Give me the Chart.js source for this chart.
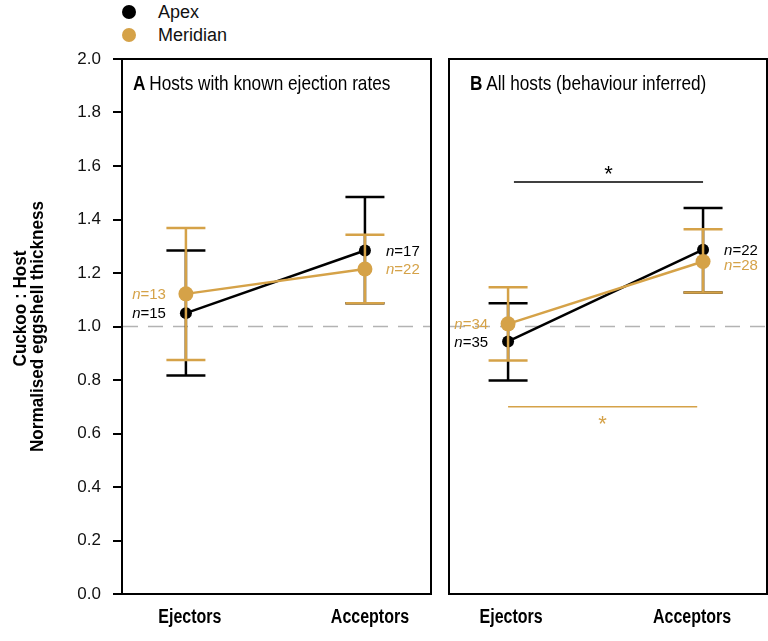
<!DOCTYPE html>
<html>
<head>
<meta charset="utf-8">
<script src="https://cdn.jsdelivr.net/npm/chart.js@4.4.1/dist/chart.umd.min.js"></script>
<style>
  html, body { margin: 0; padding: 0; background: #fff; }
  #wrap { position: relative; width: 768px; height: 641px; overflow: hidden;
          font-family: 'Liberation Sans', Arial, sans-serif; }
  #chartA { position: absolute; left: 0; top: 0; }
  #chartB { position: absolute; left: 440px; top: 0; }
  .leg { position: absolute; left: 122px; height: 24px; line-height: 24px; font-size: 18px;
         padding-left: 36px; color: #111; }
  .leg .dot { position: absolute; left: 0; top: 5px; width: 14px; height: 14px; border-radius: 50%; }
</style>
</head>
<body>
<div id="wrap">
  <div class="leg" style="top:0px"><span class="dot" style="background:#000"></span>Apex</div>
  <div class="leg" style="top:23px"><span class="dot" style="background:#D5A248"></span>Meridian</div>
  <canvas id="chartA" width="440" height="641"></canvas>
  <canvas id="chartB" width="328" height="641"></canvas>
</div>
<script>
// --- datos ---
const groups = ['Ejectors', 'Acceptors'];
const seriesNames = ['Apex', 'Meridian'];
const yTicks = [0, 0.2, 0.4, 0.6, 0.8, 1.0, 1.2, 1.4, 1.6, 1.8, 2.0];
const yTitle = ['Cuckoo : Host', 'Normalised eggshell thickness'];

// Panel A: hosts with known ejection rates
const apexA      = [1.050, 1.284];
const apexA_lo   = [0.817, 1.087];
const apexA_hi   = [1.284, 1.484];
const apexA_n    = [15, 17];
const meridianA    = [1.122, 1.215];
const meridianA_lo = [0.875, 1.087];
const meridianA_hi = [1.368, 1.343];
const meridianA_n  = [13, 22];

// Panel B: all hosts (behaviour inferred)
const apexB      = [0.944, 1.287];
const apexB_lo   = [0.798, 1.127];
const apexB_hi   = [1.087, 1.443];
const apexB_n    = [35, 22];
const meridianB    = [1.010, 1.243];
const meridianB_lo = [0.873, 1.127];
const meridianB_hi = [1.147, 1.364];
const meridianB_n  = [34, 28];

// significance bars in panel B (y level of each bar)
const sigLevelsB = [1.54, 0.70];

const FONT = "'Liberation Sans', Arial, sans-serif";
const BLACK = '#000000';
const GOLD = '#D5A248';
Chart.defaults.font.family = FONT;

// texto comprimido en horizontal (simula una fuente condensada)
function narrowText(ctx, text, x, y, font, sx, align, rot) {
  ctx.save();
  ctx.translate(x, y);
  if (rot) ctx.rotate(rot);
  ctx.scale(sx, 1);
  ctx.font = font;
  ctx.textAlign = align;
  ctx.textBaseline = 'alphabetic';
  ctx.fillText(text, 0, 0);
  ctx.restore();
}

function makeSets(vals, lo, hi, n, name, color, order, radius) {
  return {
    label: name,
    data: vals.map((v, i) => ({ x: i, y: v })),
    lo, hi, n,
    borderColor: color,
    backgroundColor: color,
    pointBackgroundColor: color,
    pointBorderColor: color,
    pointRadius: radius,
    pointBorderWidth: 0,
    borderWidth: 2.5,
    order
  };
}

// --- plugins ---
const panelBox = {
  id: 'panelBox',
  beforeDatasetsDraw(chart, args, opts) {
    const { ctx, chartArea: a, scales: { y } } = chart;
    ctx.save();
    // linea de referencia en 1.0
    const yy = y.getPixelForValue(1.0);
    ctx.strokeStyle = '#b3b3b3';
    ctx.lineWidth = 1.5;
    ctx.setLineDash([15, 10]);
    ctx.beginPath();
    ctx.moveTo(a.left + 1, yy);
    ctx.lineTo(a.right + (opts.extend || 0), yy);
    ctx.stroke();
    ctx.setLineDash([]);
    // caja
    ctx.strokeStyle = '#000';
    ctx.lineWidth = 2;
    ctx.strokeRect(a.left, a.top, a.right - a.left, a.bottom - a.top);
    ctx.restore();
  },
  afterDraw(chart, args, opts) {
    const { ctx, chartArea: a, scales: { x } } = chart;
    ctx.save();
    ctx.fillStyle = '#000';
    // titulo del panel
    const tx = a.left + opts.dx;
    narrowText(ctx, opts.letter, tx, a.top + 31, `bold 21px ${FONT}`, 0.82, 'left');
    ctx.font = `bold 21px ${FONT}`;
    const w = ctx.measureText(opts.letter + ' ').width * 0.82;
    narrowText(ctx, opts.title, tx + w - 1, a.top + 31, `21px ${FONT}`, 0.82, 'left');
    // etiquetas de categoria
    groups.forEach((g, i) => {
      const px = x.getPixelForValue(i) + opts.labelShift[i];
      narrowText(ctx, g, px, a.bottom + 29, `bold 19.5px ${FONT}`, 0.82, 'center');
    });
    ctx.restore();
  }
};

const yAxisTitle = {
  id: 'yAxisTitle',
  afterDraw(chart) {
    const { ctx, chartArea: a } = chart;
    const mid = (a.top + a.bottom) / 2;
    const font = `bold 18px ${FONT}`;
    const lines = [
      { text: yTitle[0], base: 26, center: mid - 18 },
      { text: yTitle[1], base: 43, center: mid }
    ];
    ctx.save();
    ctx.fillStyle = '#000';
    // misma compresion para las dos lineas
    ctx.font = font;
    const sx = 251 / ctx.measureText(yTitle[1]).width;
    lines.forEach(l => {
      narrowText(ctx, l.text, l.base, l.center, font, sx, 'center', -Math.PI / 2);
    });
    ctx.restore();
  }
};

const errorBars = {
  id: 'errorBars',
  beforeDatasetDraw(chart, args) {
    const ds = chart.data.datasets[args.index];
    const { ctx, scales: { x, y } } = chart;
    ctx.save();
    ctx.strokeStyle = ds.borderColor;
    ctx.lineWidth = 2.5;
    ds.lo.forEach((lo, i) => {
      const px = x.getPixelForValue(i);
      const top = y.getPixelForValue(ds.hi[i]);
      const bot = y.getPixelForValue(lo);
      ctx.beginPath();
      ctx.moveTo(px, top); ctx.lineTo(px, bot);
      ctx.moveTo(px - 19.5, top); ctx.lineTo(px + 19.5, top);
      ctx.moveTo(px - 19.5, bot); ctx.lineTo(px + 19.5, bot);
      ctx.stroke();
    });
    ctx.restore();
  }
};

const nLabels = {
  id: 'nLabels',
  afterDatasetsDraw(chart) {
    const { ctx, scales: { x, y } } = chart;
    const sets = chart.data.datasets;
    ctx.save();
    ctx.textBaseline = 'middle';
    groups.forEach((g, i) => {
      // posiciones verticales, separadas si se pisan
      let ys = sets.map(ds => y.getPixelForValue(ds.data[i].y) + 1);
      const order = ys.map((v, k) => k).sort((p, q) => ys[p] - ys[q]);
      for (let k = 1; k < order.length; k++) {
        if (ys[order[k]] - ys[order[k - 1]] < 15) ys[order[k]] = ys[order[k - 1]] + 15;
      }
      const px = x.getPixelForValue(i);
      sets.forEach((ds, d) => {
        ctx.fillStyle = ds.borderColor;
        ctx.font = `italic 15px ${FONT}`;
        const wN = ctx.measureText('n').width;
        ctx.font = `15px ${FONT}`;
        const rest = '=' + ds.n[i];
        const wR = ctx.measureText(rest).width;
        let sx = i === 0 ? px - 20 - (wN + wR) : px + 21;
        ctx.font = `italic 15px ${FONT}`;
        ctx.fillText('n', sx, ys[d]);
        ctx.font = `15px ${FONT}`;
        ctx.fillText(rest, sx + wN, ys[d]);
      });
    });
    ctx.restore();
  }
};

const sigBars = {
  id: 'sigBars',
  afterDatasetsDraw(chart) {
    const { ctx, scales: { x, y } } = chart;
    const defs = [
      { level: sigLevelsB[0], from: 0.03, to: 1.0, color: BLACK, dy: -1 },
      { level: sigLevelsB[1], from: 0.0, to: 0.97, color: GOLD, dy: 24 }
    ];
    ctx.save();
    defs.forEach(s => {
      const yy = y.getPixelForValue(s.level);
      const x1 = x.getPixelForValue(s.from), x2 = x.getPixelForValue(s.to);
      ctx.strokeStyle = s.color;
      ctx.lineWidth = 1.5;
      ctx.beginPath();
      ctx.moveTo(x1, yy); ctx.lineTo(x2, yy);
      ctx.stroke();
      ctx.fillStyle = s.color;
      ctx.font = `22px ${FONT}`;
      ctx.textAlign = 'center';
      ctx.textBaseline = 'alphabetic';
      ctx.fillText('*', (x1 + x2) / 2, yy + s.dy);
    });
    ctx.restore();
  }
};

function xScale(min, max) {
  return {
    type: 'linear', min, max,
    afterFit: s => { s.height = 47; },
    grid: { display: false, drawTicks: false },
    border: { display: false },
    ticks: { display: false }
  };
}

// --- Panel A ---
new Chart(document.getElementById('chartA').getContext('2d'), {
  type: 'line',
  data: {
    datasets: [
      makeSets(apexA, apexA_lo, apexA_hi, apexA_n, seriesNames[0], BLACK, 2, 6),
      makeSets(meridianA, meridianA_lo, meridianA_hi, meridianA_n, seriesNames[1], GOLD, 1, 7.5)
    ]
  },
  options: {
    responsive: false,
    animation: false,
    devicePixelRatio: 1,
    layout: { autoPadding: false, padding: { top: 59, right: 9, left: 0, bottom: 0 } },
    scales: {
      x: xScale(-0.357, 1.369),
      y: {
        min: 0, max: 2,
        afterBuildTicks: s => { s.ticks = yTicks.map(v => ({ value: v })); },
        afterFit: s => { s.width = 122; },
        grid: { display: true, drawOnChartArea: false, drawTicks: true, tickLength: 9, color: '#000', lineWidth: 2 },
        border: { display: false },
        ticks: { padding: 12, color: '#111', font: { size: 17 }, callback: v => v.toFixed(1) }
      }
    },
    plugins: {
      legend: { display: false },
      tooltip: { enabled: false },
      panelBox: { letter: 'A', title: 'Hosts with known ejection rates', dx: 11, labelShift: [4, 5] }
    }
  },
  plugins: [panelBox, errorBars, nLabels, yAxisTitle]
});

// --- Panel B ---
new Chart(document.getElementById('chartB').getContext('2d'), {
  type: 'line',
  data: {
    datasets: [
      makeSets(apexB, apexB_lo, apexB_hi, apexB_n, seriesNames[0], BLACK, 2, 6),
      makeSets(meridianB, meridianB_lo, meridianB_hi, meridianB_n, seriesNames[1], GOLD, 1, 7.5)
    ]
  },
  options: {
    responsive: false,
    animation: false,
    devicePixelRatio: 1,
    layout: { autoPadding: false, padding: { top: 59, right: 1, left: 9, bottom: 0 } },
    scales: {
      x: xScale(-0.303, 1.328),
      y: { display: false, min: 0, max: 2 }
    },
    plugins: {
      legend: { display: false },
      tooltip: { enabled: false },
      panelBox: { letter: 'B', title: 'All hosts (behaviour inferred)', dx: 21, extend: 1, labelShift: [3, -11] }
    }
  },
  plugins: [panelBox, errorBars, nLabels, sigBars]
});
</script>
</body>
</html>
